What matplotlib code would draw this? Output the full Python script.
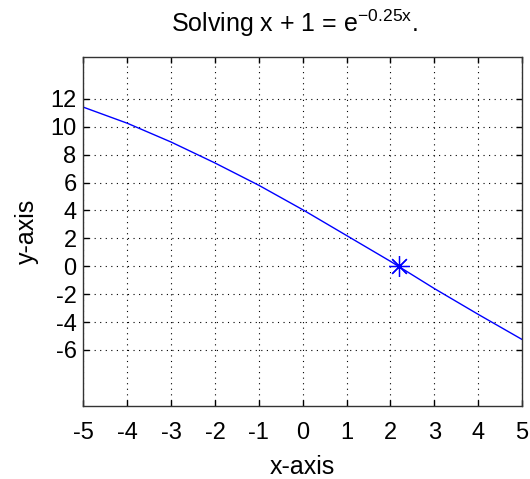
import matplotlib
matplotlib.use("Agg")
import matplotlib.pyplot as plt

# Data
x_vals = [-5, -4, -3, -2, -1, 0, 1, 2, 3, 4, 5]
y_vals = [11.4, 10.25, 8.9, 7.4, 5.8, 4.05, 2.2, 0.35, -1.6, -3.45, -5.25]
root_x = [2.2]
root_y = [0.0]
x_ticks = [-5, -4, -3, -2, -1, 0, 1, 2, 3, 4, 5]
y_ticks = [-6, -4, -2, 0, 2, 4, 6, 8, 10, 12]

plt.rcParams['font.family'] = ['Liberation Sans', 'DejaVu Sans']
plt.rcParams['mathtext.fontset'] = 'custom'
plt.rcParams['mathtext.rm'] = 'Liberation Sans'
plt.rcParams['mathtext.it'] = 'Liberation Sans'

fig = plt.figure(figsize=(5.30, 4.79), dpi=100)
ax = fig.add_axes([0.1575, 0.153, 0.8275, 0.728])

ax.plot(x_vals, y_vals, color='#0000ff', linewidth=1.0)
ax.plot(root_x, root_y, linestyle='none', marker=(8, 2, 0), markersize=15,
        color='#0000ff', markeredgewidth=0.9)

ax.set_xlim(-5, 5)
ax.set_ylim(-10, 15)
ax.set_xticks(x_ticks)
ax.set_yticks(y_ticks)
ax.set_xticklabels([str(t) for t in x_ticks])
ax.set_yticklabels([str(t) for t in y_ticks])
ax.tick_params(direction='in', length=4, width=1, top=True, right=True,
               labelsize=17, colors='black')
ax.tick_params(axis='x', pad=12)
ax.tick_params(axis='y', pad=5)
ax.grid(True, linestyle=(0, (1, 4)), color='black', linewidth=0.8)
for s in ax.spines.values():
    s.set_linewidth(1.0)
    s.set_color('#333333')

ax.set_xlabel('x-axis', fontsize=18, labelpad=8)
ax.set_ylabel('y-axis', fontsize=18, labelpad=8)
ax.set_title('Solving x + 1 = e$^{\\mathregular{-0.25x}}$.', fontsize=18, pad=18,
             x=0.48)

fig.savefig('out.png', dpi=100)
